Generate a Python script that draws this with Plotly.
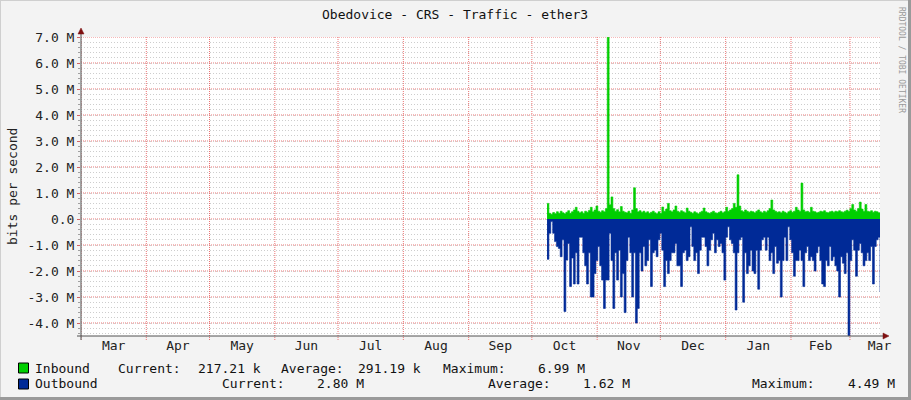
import plotly.graph_objects as go
import pandas as pd

TITLE = "Obedovice - CRS - Traffic - ether3"
Y_TITLE = "bits per second"
SIDE_TEXT = "RRDTOOL / TOBI OETIKER"

# Inbound traffic (Mbit/s), sampled roughly daily from early October to mid March
inbound_M = [
    0.60, 0.22, 0.18, 0.25, 0.20, 0.28, 0.22, 0.30, 0.24, 0.20,
    0.26, 0.32, 0.22, 0.28, 0.35, 0.45, 0.30, 0.24, 0.28, 0.22,
    0.30, 0.26, 0.33, 0.45, 0.28, 0.35, 0.50, 0.30, 0.26, 0.32,
    0.28, 0.40, 6.99, 0.55, 0.85, 0.40, 0.30, 0.36, 0.28, 0.48,
    0.30, 0.26, 0.24, 0.30, 0.22, 0.35, 1.20, 0.40, 0.28, 0.32,
    0.26, 0.30, 0.24, 0.28, 0.22, 0.26, 0.30, 0.24, 0.20, 0.28,
    0.22, 0.46, 0.30, 0.38, 0.60, 0.32, 0.28, 0.35, 0.50, 0.30,
    0.26, 0.32, 0.28, 0.24, 0.42, 0.30, 0.26, 0.22, 0.28, 0.24,
    0.20, 0.26, 0.30, 0.42, 0.28, 0.24, 0.22, 0.26, 0.30, 0.24,
    0.22, 0.26, 0.30, 0.24, 0.28, 0.45, 0.30, 0.35, 0.40, 0.60,
    0.45, 1.70, 0.50, 0.32, 0.28, 0.35, 0.30, 0.26, 0.30, 0.28,
    0.24, 0.30, 0.35, 0.28, 0.24, 0.30, 0.26, 0.32, 0.40, 0.73,
    0.35, 0.30, 0.26, 0.28, 0.24, 0.30, 0.26, 0.22, 0.28, 0.32,
    0.26, 0.30, 0.45, 0.35, 0.30, 1.38, 0.35, 0.28, 0.30, 0.26,
    0.45, 0.30, 0.28, 0.24, 0.26, 0.30, 0.28, 0.32, 0.26, 0.24,
    0.28, 0.30, 0.26, 0.30, 0.28, 0.32, 0.28, 0.26, 0.30, 0.34,
    0.30, 0.40, 0.56, 0.35, 0.30, 0.40, 0.65, 0.38, 0.30, 0.56,
    0.30, 0.28, 0.32, 0.26, 0.30, 0.28, 0.24, 0.22,
]

# Outbound traffic (Mbit/s), drawn below zero
outbound_M = [
    1.55, 0.55, 0.10, 0.55, 0.87, 1.06, 1.13, 1.45, 0.80, 3.56,
    1.58, 0.94, 2.60, 1.50, 2.50, 1.30, 2.50, 0.70, 0.70, 1.30,
    1.80, 2.50, 1.30, 3.00, 3.00, 2.10, 1.60, 1.06, 1.80, 2.35,
    3.44, 2.35, 2.35, 0.55, 1.60, 3.44, 1.30, 2.35, 1.20, 3.00,
    2.10, 3.60, 1.60, 0.70, 1.30, 3.00, 1.30, 4.00, 3.44, 1.30,
    2.00, 1.06, 1.80, 1.60, 0.80, 2.60, 1.30, 1.20, 1.45, 0.80,
    0.55, 1.20, 2.60, 1.60, 2.10, 1.60, 1.30, 1.30, 0.94, 1.80,
    1.80, 2.60, 1.30, 1.20, 1.60, 1.45, 0.30, 1.06, 1.60, 1.30,
    2.10, 1.20, 0.70, 0.70, 1.06, 1.80, 1.20, 0.80, 0.55, 1.30,
    0.80, 1.06, 0.94, 1.30, 2.35, 0.70, 0.30, 0.80, 0.94, 1.30,
    3.50, 1.30, 0.80, 0.70, 3.20, 1.30, 2.10, 1.80, 1.20, 2.00,
    2.10, 1.20, 2.70, 1.20, 0.80, 0.70, 1.20, 0.70, 1.60, 1.30,
    2.10, 1.06, 1.70, 1.60, 3.00, 1.60, 0.70, 1.60, 0.30, 0.80,
    1.30, 2.20, 1.60, 1.60, 1.20, 1.60, 2.60, 1.30, 1.06, 1.60,
    1.45, 1.60, 2.00, 1.30, 1.06, 1.60, 2.50, 2.60, 1.60, 1.80,
    1.06, 1.60, 1.45, 1.80, 2.00, 3.00, 1.45, 1.70, 2.10, 1.30,
    4.49, 1.60, 0.80, 1.20, 2.20, 1.20, 0.94, 1.30, 1.80, 1.60,
    1.30, 1.60, 1.06, 2.50, 1.06, 0.80, 0.70, 2.80,
]

series_start = "2014-10-08 05:00"
series_end = "2015-03-15 06:00"
axis_start = "2014-03-01"
axis_end = "2015-03-15 06:00"

y_tick_vals_M = [-4, -3, -2, -1, 0, 1, 2, 3, 4, 5, 6, 7]
y_tick_text = ["-4.0 M", "-3.0 M", "-2.0 M", "-1.0 M", "0.0", "1.0 M",
               "2.0 M", "3.0 M", "4.0 M", "5.0 M", "6.0 M", "7.0 M"]
y_min_M, y_max_M = -4.5, 7.0

month_labels = ["Mar", "Apr", "May", "Jun", "Jul", "Aug", "Sep",
                "Oct", "Nov", "Dec", "Jan", "Feb", "Mar"]

legend_rows = [
    {"name": "Inbound", "color": "#00CF00",
     "items": [("Current:", 116), ("217.21 k", 196), ("Average:", 279),
               ("291.19 k", 356), ("Maximum:", 441), ("6.99 M", 536)]},
    {"name": "Outbound", "color": "#002A97",
     "items": [("Current:", 220), ("2.80 M", 315), ("Average:", 486),
               ("1.62 M", 581), ("Maximum:", 750), ("4.49 M", 846)]},
]

# ---------------------------------------------------------------- layout geometry
W, H = 911, 400
L, R, T, B = 81, 880, 37, 336
FONT = "DejaVu Sans Mono"
MAJOR_GRID = "rgb(235,115,115)"
MINOR_GRID = "rgb(205,205,205)"


def px(x):
    return (x - L) / (R - L)


def py(y):
    return (B - y) / (B - T)


times = pd.date_range(series_start, series_end, periods=len(inbound_M))
month_starts = pd.date_range("2014-03-01", "2015-03-01", freq="MS")
next_starts = list(month_starts[1:]) + [pd.Timestamp("2015-03-29")]
label_pos = [a + (b - a) / 2 for a, b in zip(month_starts, next_starts)]

fig = go.Figure()
fig.add_trace(go.Scatter(
    x=times, y=[-v * 1e6 for v in outbound_M], mode="lines",
    line=dict(color="#002A97", width=0.6, shape="hv"),
    fill="tozeroy", fillcolor="#002A97", name="Outbound", hoverinfo="skip"))
fig.add_trace(go.Scatter(
    x=times, y=[v * 1e6 for v in inbound_M], mode="lines",
    line=dict(color="#00CF00", width=0.6, shape="hv"),
    fill="tozeroy", fillcolor="#00CF00", name="Inbound", hoverinfo="skip"))

fig.update_layout(
    width=W, height=H,
    margin=dict(l=L, r=W - R, t=T, b=H - B, pad=0),
    paper_bgcolor="#F3F3F3", plot_bgcolor="#FFFFFF",
    showlegend=False,
    font=dict(family=FONT, size=13, color="#222222"),
)

fig.update_xaxes(
    type="date", range=[axis_start, axis_end],
    tickmode="array", tickvals=label_pos, ticktext=month_labels,
    ticks="", showgrid=False, zeroline=False, showline=False,
    tickfont=dict(family=FONT, size=13, color="#222222"),
    fixedrange=True,
)

fig.update_yaxes(
    range=[y_min_M * 1e6, y_max_M * 1e6],
    tickmode="array", tickvals=[v * 1e6 for v in y_tick_vals_M], ticktext=y_tick_text,
    ticks="outside", ticklen=3, tickcolor="rgb(210,100,100)",
    showgrid=False, zeroline=False, showline=False,
    tickfont=dict(family=FONT, size=13, color="#222222"),
    minor=dict(dtick=0.2e6, tick0=0, showgrid=True, gridcolor=MINOR_GRID,
               griddash="1px,2px", gridwidth=1, ticks="outside", ticklen=2,
               tickcolor="#A0A0A0"),
    fixedrange=True,
)

shapes = []
# major grid: month boundaries and whole-megabit levels (placed via the axes)
for d in month_starts:
    shapes.append(dict(type="line", xref="x", yref="paper", x0=d, x1=d,
                       y0=py(340), y1=1.0, layer="below",
                       line=dict(color=MAJOR_GRID, width=1, dash="1px,1px")))
for v in y_tick_vals_M:
    shapes.append(dict(type="line", xref="paper", yref="y", x0=0, x1=1,
                       y0=v * 1e6, y1=v * 1e6, layer="below",
                       line=dict(color=MAJOR_GRID, width=1, dash="1px,1px")))
# axis lines
shapes.append(dict(type="line", xref="paper", yref="paper",
                   x0=px(81), x1=px(81), y0=py(340), y1=py(33),
                   line=dict(color="#505050", width=1)))
shapes.append(dict(type="line", xref="paper", yref="paper",
                   x0=px(77), x1=px(884), y0=py(336), y1=py(336),
                   line=dict(color="#505050", width=1)))
# arrows
shapes.append(dict(type="path", xref="paper", yref="paper",
                   path=f"M {px(78)} {py(34)} L {px(84)} {py(34)} L {px(81)} {py(28)} Z",
                   fillcolor="#7F1010", line=dict(color="#7F1010", width=0.5)))
shapes.append(dict(type="path", xref="paper", yref="paper",
                   path=f"M {px(883)} {py(333)} L {px(883)} {py(339)} L {px(889)} {py(336)} Z",
                   fillcolor="#7F1010", line=dict(color="#7F1010", width=0.5)))
# frame (light top/left, dark bottom/right)
shapes.append(dict(type="line", xref="paper", yref="paper",
                   x0=px(0), x1=px(911), y0=py(0.5), y1=py(0.5),
                   line=dict(color="#CFCFCF", width=1)))
shapes.append(dict(type="line", xref="paper", yref="paper",
                   x0=px(0.5), x1=px(0.5), y0=py(0), y1=py(400),
                   line=dict(color="#CFCFCF", width=1)))
shapes.append(dict(type="line", xref="paper", yref="paper",
                   x0=px(0), x1=px(911), y0=py(398.5), y1=py(398.5),
                   line=dict(color="#9A9A9A", width=3)))
shapes.append(dict(type="line", xref="paper", yref="paper",
                   x0=px(909.5), x1=px(909.5), y0=py(0), y1=py(400),
                   line=dict(color="#9A9A9A", width=3)))
# legend swatches
for i, row in enumerate(legend_rows):
    yc = 368 + 16 * i
    shapes.append(dict(type="rect", xref="paper", yref="paper",
                       x0=px(18.5), x1=px(28.5), y0=py(yc - 5), y1=py(yc + 5),
                       fillcolor=row["color"], line=dict(color="#000000", width=1)))
fig.update_layout(shapes=shapes)

ann = []
ann.append(dict(text=TITLE, xref="paper", yref="paper", x=px(455), y=py(14),
                xanchor="center", yanchor="middle", showarrow=False,
                font=dict(family=FONT, size=13, color="#111111")))
ann.append(dict(text=Y_TITLE, xref="paper", yref="paper", x=px(12), y=py(187),
                xanchor="center", yanchor="middle", showarrow=False, textangle=-90,
                font=dict(family=FONT, size=13, color="#222222")))
ann.append(dict(text=SIDE_TEXT, xref="paper", yref="paper", x=px(901), y=py(60),
                xanchor="center", yanchor="middle", showarrow=False, textangle=90,
                font=dict(family=FONT, size=8, color="#9A9A9A")))
for i, row in enumerate(legend_rows):
    yc = 368 + 16 * i
    ann.append(dict(text=row["name"], xref="paper", yref="paper", x=px(33), y=py(yc),
                    xanchor="left", yanchor="middle", showarrow=False,
                    font=dict(family=FONT, size=13, color="#111111")))
    for text, xpos in row["items"]:
        ann.append(dict(text=text, xref="paper", yref="paper", x=px(xpos), y=py(yc),
                        xanchor="left", yanchor="middle", showarrow=False,
                        font=dict(family=FONT, size=13, color="#111111")))
fig.update_layout(annotations=ann)

fig.write_html("out.html",
               config={"displayModeBar": False, "staticPlot": True},
               post_script="document.body.style.margin='0px';document.body.style.overflow='hidden';")
